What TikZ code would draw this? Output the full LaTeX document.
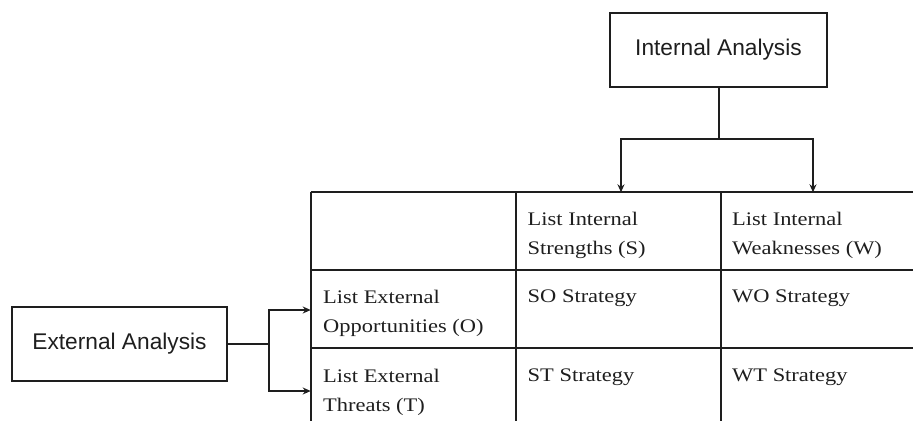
\documentclass[tikz,border=0pt]{standalone}
\usepackage{fontspec}
\setmainfont{Liberation Serif}[FakeStretch=1.17]
\newfontfamily\boxfont{Liberation Sans}
\usetikzlibrary{arrows.meta}
\definecolor{ink}{HTML}{1E1E1E}
\tikzset{
  line/.style={draw=ink, line width=2pt},
  arr/.style={line, -{Stealth[length=8pt,width=7pt]}},
  anabox/.style={line, minimum height=74pt, inner sep=0pt, font=\boxfont\fontsize{22.7}{26}\selectfont, text=ink},
  celltext/.style={anchor=north west, inner sep=0pt, align=left, text=ink,
    font=\fontsize{19.2}{29}\selectfont},
}
\begin{document}
\begin{tikzpicture}[x=1pt,y=-1pt]
\useasboundingbox (0,0) rectangle (913,421);

% analysis boxes
\node[anabox, minimum width=217pt] (int) at (718.5,50) {Internal Analysis};
\node[anabox, minimum width=215pt] (ext) at (119.5,344) {External Analysis};

% table grid (open to the right and at the bottom)
\draw[line] (310.7,192.3) -- (913,192.3);
\draw[line] (310.7,270) -- (913,270);
\draw[line] (310.7,348) -- (913,348);
\draw[line] (310.7,192.3) -- (310.7,421);
\draw[line] (516,192.3) -- (516,421);
\draw[line] (720.7,192.3) -- (720.7,421);

% arrow targets on the grid
\coordinate (sTop) at (621,192.3);
\coordinate (wTop) at (813,192.3);
\coordinate (oLeft) at (310.7,310);
\coordinate (tLeft) at (310.7,391);

% connectors
\coordinate (ib) at (718.5,139);
\draw[line] (int.south) -- (ib);
\draw[arr] (ib) -| (sTop);
\draw[arr] (ib) -| (wTop);
\coordinate (eb) at (269,344);
\draw[line] (ext.east) -- (eb);
\draw[arr] (eb) |- (oLeft);
\draw[arr] (eb) |- (tLeft);

% cell texts
\node[celltext] (s) at (527.5,212) {List Internal\\Strengths (S)};
\node[celltext] (w) at (732,212) {List Internal\\Weaknesses (W)};
\node[celltext] (o) at (323,290) {List External\\Opportunities (O)};
\node[celltext] (t) at (323,369) {List External\\Threats (T)};
\node[celltext] (so) at (527.5,290) {SO Strategy};
\node[celltext] (wo) at (732,290) {WO Strategy};
\node[celltext] (st) at (527.5,369) {ST Strategy};
\node[celltext] (wt) at (732,369) {WT Strategy};
\end{tikzpicture}
\end{document}
